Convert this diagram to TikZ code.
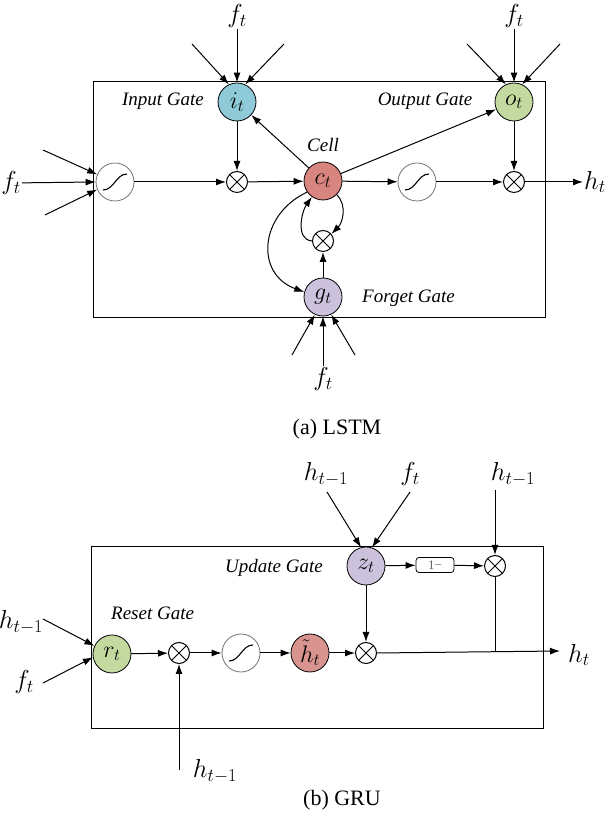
\RequirePackage{fix-cm}
\documentclass[tikz,border=0pt]{standalone}
\usepackage{fontspec}
\setmainfont{Liberation Serif}
\usetikzlibrary{arrows.meta}
\definecolor{cI}{HTML}{8ECAD8}
\definecolor{cO}{HTML}{C4D9A0}
\definecolor{cC}{HTML}{D9857F}
\definecolor{cG}{HTML}{CCC2DD}
\definecolor{cH}{HTML}{D99490}
\begin{document}
\begin{tikzpicture}[x=1pt,y=1pt,
  arr/.style={-{Latex[length=10pt,width=7pt]}, line width=1pt},
  gate/.style={circle, draw, line width=0.8pt, minimum size=38pt, inner sep=0pt, font=\fontsize{24}{26}\selectfont},
  mult/.style={circle, draw, line width=1pt, minimum size=21pt, inner sep=0pt,
    path picture={\draw[black, line width=1pt] (path picture bounding box.north west) -- (path picture bounding box.south east)
      (path picture bounding box.north east) -- (path picture bounding box.south west);}},
  sigm/.style={circle, draw=black!55, line width=0.8pt, minimum size=38pt, inner sep=0pt,
    path picture={\draw[black, line width=1.1pt, shift={(path picture bounding box.center)}] (-12pt,-8pt) .. controls (-1pt,-8pt) and (1pt,8pt) .. (12pt,8pt);}},
  ext/.style={font=\fontsize{26}{28}\selectfont, inner sep=1pt},
  gname/.style={font=\fontsize{19}{21}\selectfont\itshape, inner sep=0pt},
  capt/.style={font=\fontsize{22}{24}\selectfont, inner sep=0pt},
  frame/.style={draw, line width=0.9pt},
  onebox/.style={draw, rounded corners=3pt, line width=0.8pt, minimum width=38pt, minimum height=15pt, inner sep=0pt, font=\fontsize{13}{14}\selectfont, text=black!60}
]
\useasboundingbox (0,0) rectangle (608,821);

% ================= LSTM =================
\draw[frame] (93,740) rectangle (545,504);

\node[gate, fill=cI] (it) at (237,719) {$i_t$};
\node[gate, fill=cO] (ot) at (514,719) {$o_t$};
\node[gate, fill=cC] (ct) at (323,640) {$c_t$};
\node[gate, fill=cG] (gt) at (323,524) {$g_t$};
\node[sigm] (s1) at (115,639) {};
\node[mult] (m1) at (237,639) {};
\node[sigm] (s2) at (417,639) {};
\node[mult] (m2) at (514,639) {};
\node[mult] (m3) at (323,580) {};

\node[gname] (lin) at (163,720) {Input Gate};
\node[gname] (lout) at (425,720) {Output Gate};
\node[gname] (lcell) at (323,676) {Cell};
\node[gname, anchor=west] (lfor) at (362,523) {Forget Gate};

% inputs to i_t
\node[ext] (fti) at (237,805) {$f_t$};
\coordinate (ia) at (192,777);
\coordinate (ib) at (284,777);
\draw[arr] (fti) -- (it.north);
\draw[arr] (ia) -- (it.115);
\draw[arr] (ib) -- (it.65);
% inputs to o_t
\node[ext] (fto) at (514,805) {$f_t$};
\coordinate (oa) at (467,777);
\coordinate (ob) at (560,777);
\draw[arr] (fto) -- (ot.north);
\draw[arr] (oa) -- (ot.115);
\draw[arr] (ob) -- (ot.65);
% inputs to g_t
\node[ext] (ftg) at (323,442) {$f_t$};
\coordinate (ga) at (292,466);
\coordinate (gb) at (355,466);
\draw[arr] (ftg) -- (gt.south);
\draw[arr] (ga) -- (gt.245);
\draw[arr] (gb) -- (gt.295);
% inputs to sigmoid
\node[ext] (ftl) at (11,638) {$f_t$};
\coordinate (la) at (43,671);
\coordinate (lb) at (45,606);
\draw[arr] (ftl) -- (s1.west);
\draw[arr] (la) -- (s1.157);
\draw[arr] (lb) -- (s1.203);

% main flow
\draw[arr] (s1) -- (m1);
\draw[arr] (m1) -- (ct);
\draw[arr] (ct) -- (s2);
\draw[arr] (s2) -- (m2);
\node[ext, anchor=west] (htl) at (583,639) {$h_t$};
\draw[arr] (m2) -- (htl.west);
\draw[arr] (it) -- (m1);
\draw[arr] (ct) -- (it);
\draw[arr] (ct) -- (ot);
\draw[arr] (ot) -- (m2);
\draw[arr] (gt) -- (m3);
\draw[arr] (m3.west) to[out=175,in=235] (ct.235);
\draw[arr] (ct.-45) to[out=-45,in=45] (m3.40);
\draw[arr] (ct.215) to[out=205,in=160,looseness=1.35] (gt.165);

\node[capt, anchor=base] (capa) at (337,386) {(a) LSTM};

% ================= GRU =================
\draw[frame] (91,275) rectangle (543,93);

\node[gate, fill=cO] (rt) at (112,167) {$r_t$};
\node[mult] (g1) at (179,168) {};
\node[sigm] (s3) at (241,168) {};
\node[gate, fill=cH] (htil) at (310,168) {$\tilde{h}_t$};
\node[mult] (g2) at (366,168) {};
\node[gate, fill=cG] (zt) at (366,255) {$z_t$};
\node[onebox] (onem) at (435,256) {1−};
\node[mult] (g3) at (495,255) {};
\coordinate (J) at (495,169);
\coordinate (hend) at (560,170);
\node[ext, anchor=west] (htg) at (567,166) {$h_t$};

\node[gname, anchor=west] (lupd) at (225,253) {Update Gate};
\node[gname, anchor=west] (lres) at (111,208) {Reset Gate};

\node[ext] (hz) at (326,347) {$h_{t-1}$};
\node[ext] (fz) at (410,347) {$f_t$};
\node[ext] (hr) at (513,347) {$h_{t-1}$};
\coordinate (hzs) at (327,329);
\coordinate (fzs) at (410,329);
\coordinate (hrs) at (495,331);
\draw[arr] (hzs) -- (zt.105);
\draw[arr] (fzs) -- (zt.72);
\draw[arr] (hrs) -- (g3.north);

\node[ext] (hl) at (21,199) {$h_{t-1}$};
\node[ext] (fl) at (24,139) {$f_t$};
\coordinate (hls) at (43,202);
\coordinate (fls) at (43,138);
\draw[arr] (hls) -- (rt.155);
\draw[arr] (fls) -- (rt.190);

\node[ext] (hb) at (215,50) {$h_{t-1}$};
\coordinate (hbs) at (179,51);
\draw[arr] (hbs) -- (g1.south);

\draw[arr] (rt) -- (g1);
\draw[arr] (g1) -- (s3);
\draw[arr] (s3) -- (htil);
\draw[arr] (htil) -- (g2);
\draw[arr] (zt) -- (g2);
\draw[arr] (zt) -- (onem);
\draw[arr] (onem) -- (g3);
\draw[line width=1pt] (g3) -- (J);
\draw[arr] (g2.east) -- (hend);

\node[capt, anchor=base] (capb) at (342,16) {(b) GRU};
\end{tikzpicture}
\end{document}
